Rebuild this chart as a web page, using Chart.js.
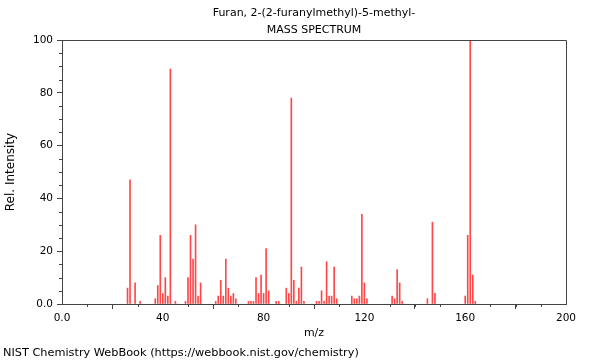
<!DOCTYPE html>
<html>
<head>
<meta charset="utf-8">
<script src="https://cdn.jsdelivr.net/npm/chart.js@4"></script>
<style>
  html, body { margin: 0; padding: 0; background: #fff; }
  #wrap { width: 600px; height: 360px; position: relative; }
</style>
</head>
<body>
<div id="wrap"><canvas id="c" width="600" height="360"></canvas></div>
<script>
const chartTitle = "Furan, 2-(2-furanylmethyl)-5-methyl-";
const chartSubtitle = "MASS SPECTRUM";
const footerText = "NIST Chemistry WebBook (https://webbook.nist.gov/chemistry)";
const xTitle = "m/z";
const yTitle = "Rel. Intensity";

const mz = [26, 27, 29, 31, 37, 38, 39, 40, 41, 42, 43, 45, 49, 50, 51, 52, 53, 54, 55,
  61, 62, 63, 64, 65, 66, 67, 68, 69, 74, 75, 76, 77, 78, 79, 80, 81, 82, 85, 86,
  89, 90, 91, 92, 93, 94, 95, 96, 101, 102, 103, 104, 105, 106, 107, 108, 109,
  115, 116, 117, 118, 119, 120, 121, 131, 132, 133, 134, 135, 145, 147, 148,
  160, 161, 162, 163, 164];
const intensity = [6, 47, 8, 1, 2, 7, 26, 4, 10, 3, 89, 1, 1, 10, 26, 17, 30, 3, 8,
  1, 3, 9, 3, 17, 6, 3, 4, 2, 1, 1, 1, 10, 4, 11, 4, 21, 5, 1, 1,
  6, 4, 78, 9, 1, 6, 14, 1, 1, 1, 5, 1, 16, 3, 3, 14, 2,
  3, 2, 2, 3, 34, 8, 2, 3, 2, 13, 8, 1, 2, 31, 4,
  3, 26, 100, 11, 1];

const xMajorTicks = [0, 40, 80, 120, 160, 200];
const xMinorTicks = [10, 20, 30, 50, 60, 70, 90, 100, 110, 130, 140, 150, 170, 180, 190];
const yMajorTicks = [0, 20, 40, 60, 80, 100];
const yMinorTicks = [5, 10, 15, 25, 30, 35, 45, 50, 55, 65, 70, 75, 85, 90, 95];

const FONT = "DejaVu Sans";
const AXIS = "#444";

const framePlugin = {
  id: 'frame',
  afterDraw(chart) {
    const {ctx, chartArea: a, scales} = chart;
    ctx.save();
    ctx.strokeStyle = AXIS;
    ctx.lineWidth = 1;
    ctx.beginPath();
    ctx.moveTo(a.left, a.top + 0.5);
    ctx.lineTo(a.right + 0.5, a.top + 0.5);
    ctx.lineTo(a.right + 0.5, a.bottom);
    ctx.stroke();
    // minor ticks
    ctx.beginPath();
    xMinorTicks.forEach(v => {
      const px = Math.round(scales.x.getPixelForValue(v)) + 0.5;
      ctx.moveTo(px, a.bottom);
      ctx.lineTo(px, a.bottom + 3);
    });
    yMinorTicks.forEach(v => {
      const py = Math.round(scales.y.getPixelForValue(v)) + 0.5;
      ctx.moveTo(a.left, py);
      ctx.lineTo(a.left - 3, py);
    });
    ctx.stroke();
    // footer
    ctx.fillStyle = '#000';
    ctx.font = '11.3px "' + FONT + '"';
    ctx.textBaseline = 'middle';
    ctx.textAlign = 'left';
    ctx.fillText(footerText, 3, 353);
    ctx.restore();
  }
};

new Chart(document.getElementById('c'), {
  type: 'bar',
  data: {
    datasets: [{
      data: mz.map((m, i) => ({x: m, y: intensity[i]})),
      backgroundColor: 'rgba(255,0,0,0.72)',
      borderWidth: 0,
      barThickness: 1
    }]
  },
  options: {
    responsive: false,
    animation: false,
    devicePixelRatio: 1,
    layout: { padding: { left: 0, right: 34, top: 0, bottom: 16.4 } },
    plugins: {
      legend: { display: false },
      tooltip: { enabled: false },
      title: {
        display: true, text: chartTitle, fullSize: false,
        color: '#000', font: { family: FONT, size: 11, weight: 'normal', lineHeight: 1.2 },
        padding: { top: 6.4, bottom: 4 }
      },
      subtitle: {
        display: true, text: chartSubtitle, fullSize: false,
        color: '#000', font: { family: FONT, size: 11, weight: 'normal', lineHeight: 1.2 },
        padding: { top: 0, bottom: 3.2 }
      }
    },
    scales: {
      x: {
        type: 'linear', min: 0, max: 200, offset: false,
        afterBuildTicks: s => { s.ticks = xMajorTicks.map(v => ({value: v})); },
        afterFit: s => { s.height = 39.6; },
        grid: { display: true, drawOnChartArea: false, drawTicks: true, tickLength: 5, color: AXIS },
        border: { display: true, color: AXIS },
        ticks: {
          color: '#000', font: { family: FONT, size: 10.5 }, padding: 3, maxRotation: 0,
          callback: v => v === 0 ? '0.0' : String(v)
        },
        title: {
          display: true, text: xTitle, color: '#000',
          font: { family: FONT, size: 11, lineHeight: 1.2 }, padding: { top: 4, bottom: 4 }
        }
      },
      y: {
        type: 'linear', min: 0, max: 100,
        afterBuildTicks: s => { s.ticks = yMajorTicks.map(v => ({value: v})); },
        afterFit: s => { s.width = 62; },
        grid: { display: true, drawOnChartArea: false, drawTicks: true, tickLength: 5, color: AXIS },
        border: { display: true, color: AXIS },
        ticks: {
          color: '#000', font: { family: FONT, size: 10.5 }, padding: 4,
          callback: v => v === 0 ? '0.0' : String(v)
        },
        title: {
          display: true, text: yTitle, color: '#000',
          font: { family: FONT, size: 12, lineHeight: 1.2 }, padding: { top: 4, bottom: 4 }
        }
      }
    }
  },
  plugins: [framePlugin]
});
</script>
</body>
</html>
